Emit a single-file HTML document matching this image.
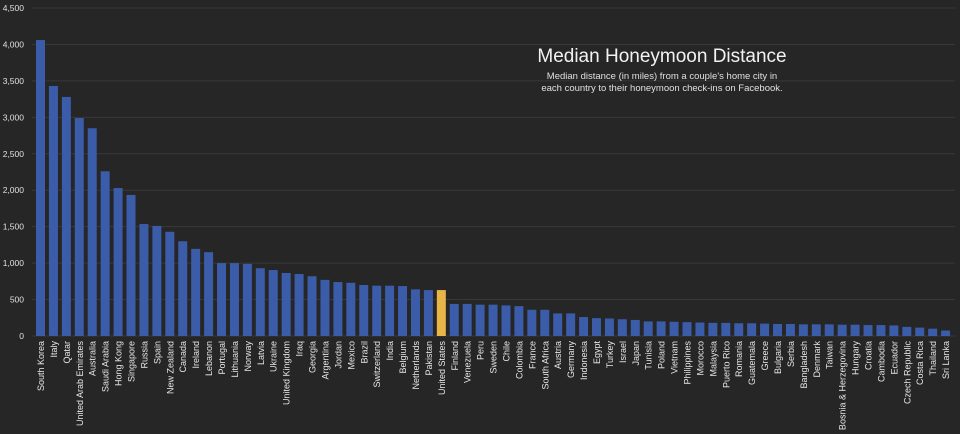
<!DOCTYPE html>
<html><head><meta charset="utf-8"><style>
html,body{margin:0;padding:0;background:#262626;}
svg{display:block;font-family:"Liberation Sans",sans-serif;}
</style></head><body>
<svg id="c" width="960" height="434" viewBox="0 0 960 434">
<rect width="960" height="434" fill="#262626"/>
<g id="g"></g>
<text x="662" y="62" fill="#f2f2f2" font-size="19" text-anchor="middle">Median Honeymoon Distance</text>
<text x="662" y="79" fill="#e0e0e0" font-size="9.5" text-anchor="middle">Median distance (in miles) from a couple's home city in</text>
<text x="662" y="91" fill="#e0e0e0" font-size="9.5" text-anchor="middle">each country to their honeymoon check-ins on Facebook.</text>
</svg>
<script>
var d=[["South Korea",4060],["Italy",3430],["Qatar",3280],["United Arab Emirates",2990],["Australia",2850],["Saudi Arabia",2260],["Hong Kong",2030],["Singapore",1935],["Russia",1536],["Spain",1510],["New Zealand",1430],["Canada",1300],["Ireland",1195],["Lebanon",1150],["Portugal",1000],["Lithuania",1000],["Norway",990],["Latvia",930],["Ukraine",905],["United Kingdom",865],["Iraq",850],["Georgia",820],["Argentina",770],["Jordan",740],["Mexico",730],["Brazil",700],["Switzerland",690],["India",690],["Belgium",685],["Netherlands",640],["Pakistan",630],["United States",630],["Finland",440],["Venezuela",440],["Peru",430],["Sweden",430],["Chile",420],["Colombia",410],["France",360],["South Africa",360],["Austria",310],["Germany",310],["Indonesia",260],["Egypt",245],["Turkey",240],["Israel",230],["Japan",220],["Tunisia",200],["Poland",200],["Vietnam",195],["Philippines",190],["Morocco",185],["Malaysia",180],["Puerto Rico",180],["Romania",175],["Guatemala",175],["Greece",170],["Bulgaria",165],["Serbia",165],["Bangladesh",160],["Denmark",160],["Taiwan",160],["Bosnia & Herzegovina",155],["Hungary",155],["Croatia",150],["Cambodia",150],["Ecuador",145],["Czech Republic",125],["Costa Rica",115],["Thailand",100],["Sri Lanka",75]];
var s='',b=336,k=328/4500;
for(var v=0;v<=4500;v+=500){var y=b-v*k;
s+='<line x1="32" x2="955" y1="'+y+'" y2="'+y+'" stroke="#383838" stroke-width="1"/>';
s+='<text x="24" y="'+(y+3)+'" fill="#e0e0e0" font-size="8.5" text-anchor="end">'+(v>=1000?Math.floor(v/1000)+','+String(v%1000).padStart(3,'0'):v)+'</text>';}
for(var i=0;i<d.length;i++){var cx=40.5+i*12.93,h=d[i][1]*k;
s+='<rect x="'+(cx-4.5)+'" y="'+(b-h)+'" width="9" height="'+h+'" fill="'+(d[i][0]=="United States"?"#e8b549":"#3b5ca8")+'"/>';
s+='<text transform="translate('+(cx+3.5)+',341) rotate(-90)" fill="#e6e6e6" font-size="9" text-anchor="end">'+d[i][0].replace('&','&amp;')+'</text>';}
document.getElementById('g').innerHTML=s;
</script>
</body></html>
